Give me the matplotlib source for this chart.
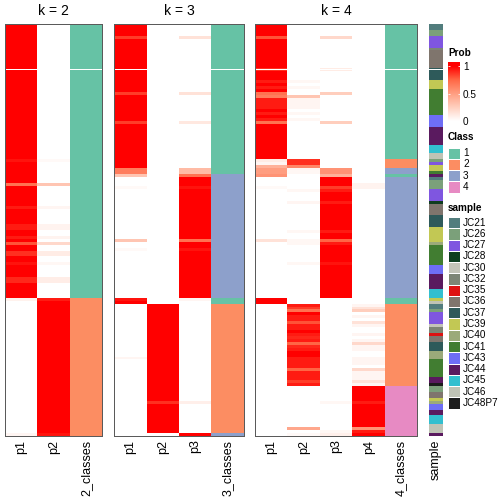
import numpy as np
import matplotlib
matplotlib.use("Agg")
import matplotlib.pyplot as plt
from matplotlib.colors import LinearSegmentedColormap, ListedColormap
from matplotlib.patches import Rectangle

plt.rcParams['font.family'] = ['Liberation Sans', 'DejaVu Sans']

# ---------------- data ----------------
k_values = [2, 3, 4]
class_labels = ["1", "2", "3", "4"]
class_colors = ["#66C2A5", "#FC8D62", "#8DA0CB", "#E78AC3"]

sample_names = ["JC21", "JC26", "JC27", "JC28", "JC30", "JC32", "JC35", "JC36", "JC37",
                "JC39", "JC40", "JC41", "JC43", "JC44", "JC45", "JC46", "JC48P7"]
sample_colors = ["#527D7D", "#7BA07A", "#7F56E0", "#0F3D1F", "#C4C4B8", "#7D8575",
                 "#DD1111", "#7F756D", "#2E5A5A", "#C2C854", "#9BAA7A", "#417D31",
                 "#6E6EF5", "#5A1A5F", "#33BFCF", "#BFC3B5", "#1C1C1C"]

# sample of each row (run-length: name, count), top to bottom
sample_runs = [("JC21", 2), ("JC26", 2), ("JC27", 4), ("JC32", 1), ("JC36", 6), ("JC37", 4),
               ("JC39", 3), ("JC41", 9), ("JC43", 4), ("JC44", 6), ("JC45", 3), ("JC46", 2),
               ("JC26", 1), ("JC27", 1), ("JC39", 2), ("JC41", 1), ("JC44", 1), ("JC21", 1),
               ("JC26", 3), ("JC27", 4), ("JC28", 1), ("JC36", 4), ("JC37", 4), ("JC39", 5),
               ("JC40", 1), ("JC41", 7), ("JC43", 3), ("JC44", 5), ("JC45", 3), ("JC39", 1),
               ("JC46", 1), ("JC21", 2), ("JC26", 1), ("JC27", 4), ("JC30", 1), ("JC32", 2),
               ("JC35", 1), ("JC36", 2), ("JC37", 3), ("JC40", 3), ("JC41", 6), ("JC44", 2),
               ("JC48P7", 1), ("JC26", 2), ("JC36", 2), ("JC39", 1), ("JC40", 1), ("JC43", 2),
               ("JC44", 2), ("JC45", 3), ("JC46", 3), ("JC44", 1)]

# class of each row for each k (run-length: class, count)
k2_class_runs = [(1, 93), (2, 47)]
k3_class_runs = [(1, 51), (3, 42), (1, 2), (2, 44), (3, 1)]
k4_class_runs = [(1, 46), (2, 3), (3, 2), (1, 1), (3, 41), (1, 2), (2, 28), (4, 17)]

# membership probabilities in percent (run-length: value, count)
k2_p1 = [(100, 46), (95, 1), (100, 7), (70, 1), (100, 7), (93, 1), (100, 5), (93, 2), (100, 2),
         (93, 1), (100, 1), (80, 1), (100, 2), (88, 2), (100, 2), (95, 1), (100, 4), (90, 2),
         (100, 5), (7, 1), (0, 45), (5, 1)]
k2_p2 = [(0, 46), (3, 1), (0, 7), (30, 1), (0, 7), (5, 1), (0, 5), (6, 2), (0, 2), (6, 1), (0, 1),
         (20, 1), (0, 2), (10, 2), (0, 2), (4, 1), (0, 4), (9, 2), (0, 5), (93, 1), (100, 45), (95, 1)]

k3_p1 = [(100, 4), (85, 1), (100, 18), (85, 1), (100, 9), (85, 1), (100, 15), (65, 2), (30, 1),
         (0, 3), (3, 1), (0, 17), (30, 1), (0, 2), (3, 1), (0, 16), (95, 1), (100, 1), (0, 18),
         (5, 1), (0, 26)]
k3_p2 = [(0, 95), (100, 33), (88, 1), (100, 10), (0, 1)]
k3_p3 = [(0, 4), (15, 1), (0, 18), (15, 1), (0, 9), (12, 1), (0, 15), (35, 2), (70, 1), (100, 3),
         (95, 1), (100, 17), (70, 1), (100, 2), (95, 1), (100, 16), (5, 1), (0, 34), (8, 1),
         (0, 10), (100, 1)]

k4_p1 = [(100, 4), (80, 1), (100, 10), (88, 1), (100, 3), (93, 1), (100, 1), (93, 1), (100, 1),
         (70, 1), (65, 1), (93, 4), (100, 1), (93, 1), (100, 1), (93, 1), (70, 1), (100, 12),
         (10, 1), (5, 1), (40, 1), (50, 2), (55, 1), (0, 3), (3, 1), (0, 17), (15, 1), (0, 19),
         (100, 2), (0, 45)]
k4_p2 = [(0, 19), (4, 1), (0, 1), (4, 1), (0, 2), (30, 1), (5, 4), (0, 1), (4, 1), (0, 1), (4, 1),
         (0, 13), (88, 2), (60, 1), (4, 2), (0, 5), (4, 1), (0, 3), (5, 1), (0, 9), (4, 1), (0, 2),
         (4, 2), (0, 6), (4, 1), (0, 13),
         (93, 1), (85, 1), (70, 1), (100, 1), (93, 2), (80, 1), (93, 2), (100, 1), (93, 1), (90, 1),
         (93, 1), (75, 1), (90, 1), (93, 1), (100, 2), (93, 4), (75, 1), (93, 3), (85, 1), (93, 1),
         (0, 14), (45, 1), (0, 1), (3, 1)]
k4_p3 = [(0, 4), (20, 1), (0, 10), (10, 1), (0, 7), (25, 1), (0, 9), (25, 1), (0, 15), (55, 2),
         (40, 1), (100, 3), (85, 1), (93, 1), (100, 3), (93, 1), (100, 9), (93, 1), (100, 2),
         (75, 1), (93, 1), (100, 6), (95, 1), (100, 11), (0, 35), (4, 1), (0, 9), (4, 1), (8, 1)]
k4_p4 = [(0, 54), (6, 2), (0, 39),
         (5, 1), (15, 1), (25, 1), (0, 1), (5, 1), (0, 1), (15, 1), (5, 1), (0, 2), (5, 1), (0, 1),
         (5, 1), (20, 1), (5, 2), (0, 2), (5, 3), (0, 1), (20, 1), (5, 3), (15, 1), (5, 1),
         (100, 5), (93, 1), (100, 8), (55, 1), (93, 1), (100, 1)]

prob_runs = {2: [k2_p1, k2_p2], 3: [k3_p1, k3_p2, k3_p3], 4: [k4_p1, k4_p2, k4_p3, k4_p4]}
class_runs = {2: k2_class_runs, 3: k3_class_runs, 4: k4_class_runs}

gap_row = 14.7  # thin white line seen across the heatmaps


def expand(runs):
    out = []
    for v, n in runs:
        out.extend([v] * n)
    return out


# ---------------- figure ----------------
W = H = 504
fig = plt.figure(figsize=(W / 72, H / 72), dpi=72)


def px_axes(x0, y0, x1, y1):
    return fig.add_axes([x0 / W, 1 - y1 / H, (x1 - x0) / W, (y1 - y0) / H])


prob_cmap = LinearSegmentedColormap.from_list(
    "prob", [(0, "#FFFFFF"), (0.25, "#FFCFBE"), (0.5, "#FF9E81"), (0.75, "#FF6846"), (1, "#FF0000")])
class_cmap = ListedColormap(class_colors)
sample_cmap = ListedColormap(sample_colors)

top, bottom = 24, 436
panel_x = {2: (5.3, 102.3), 3: (114.3, 243.7), 4: (255.3, 417.3)}

for k in k_values:
    x0, x1 = panel_x[k]
    ax = px_axes(x0, top, x1, bottom)
    P = np.array([expand(r) for r in prob_runs[k]], dtype=float).T / 100.0
    C = np.array(expand(class_runs[k]), dtype=float)[:, None]
    N = P.shape[0]
    ax.imshow(P, cmap=prob_cmap, vmin=0, vmax=1, aspect='auto', interpolation='nearest',
              extent=(-0.5, k - 0.5, N - 0.5, -0.5))
    ax.imshow(C, cmap=class_cmap, vmin=0.5, vmax=4.5, aspect='auto', interpolation='nearest',
              extent=(k - 0.5, k + 0.5, N - 0.5, -0.5))
    ax.axhline(gap_row, color='white', lw=1)
    ax.set_xlim(-0.5, k + 0.5)
    ax.set_ylim(N - 0.5, -0.5)
    ax.set_yticks([])
    ax.set_xticks(range(k + 1))
    ax.set_xticklabels([f"p{i + 1}" for i in range(k)] + [f"{k}_classes"], rotation=90, fontsize=12.5)
    ax.tick_params(axis='x', length=0, pad=3.5)
    for s in ax.spines.values():
        s.set_color('#5A5A5A')
        s.set_linewidth(1)
    fig.text((x0 + x1) / 2 / W, 1 - 15 / H, f"k = {k}", ha='center', va='baseline', fontsize=14)

# sample annotation column
sax = px_axes(429, top, 443, bottom)
S = np.array([sample_names.index(n) for n in expand([(nm, c) for nm, c in sample_runs])], dtype=float)[:, None]
sax.imshow(S, cmap=sample_cmap, vmin=-0.5, vmax=len(sample_names) - 0.5, aspect='auto',
           interpolation='nearest', extent=(-0.5, 0.5, len(S) - 0.5, -0.5))
sax.axhline(gap_row, color='white', lw=1)
sax.set_xlim(-0.5, 0.5)
sax.set_ylim(len(S) - 0.5, -0.5)
sax.set_yticks([])
sax.set_xticks([0])
sax.set_xticklabels(["sample"], rotation=90, fontsize=12.5)
sax.tick_params(axis='x', length=0, pad=3.5)
for s in sax.spines.values():
    s.set_visible(False)

# ---------------- legends ----------------
lax = fig.add_axes([0, 0, 1, 1])
lax.set_xlim(0, W)
lax.set_ylim(H, 0)
lax.axis('off')

# Prob colorbar
lax.text(448, 53, "Prob", fontsize=10, fontweight='bold', va='center', ha='left')
cax = px_axes(448, 62, 460, 125)
grad = np.clip(np.linspace(-0.073, 1.073, 256), 0, 1)[:, None]
cax.imshow(grad, cmap=prob_cmap, vmin=0, vmax=1, aspect='auto', origin='lower',
           extent=(0, 1, -0.073, 1.073), interpolation='bilinear')
cax.set_xlim(0, 1)
cax.set_ylim(-0.073, 1.073)
cax.set_xticks([])
cax.yaxis.tick_right()
cax.set_yticks([0, 0.5, 1])
cax.set_yticklabels(["0", "0.5", "1"])
cax.tick_params(axis='y', direction='in', length=2, color='white', labelcolor='black',
                labelsize=10, pad=3, left=True, right=True)
for s in cax.spines.values():
    s.set_visible(False)

# Class legend
lax.text(448, 137, "Class", fontsize=10, fontweight='bold', va='center', ha='left')
for i, (lab, col) in enumerate(zip(class_labels, class_colors)):
    y = 147.5 + i * 11.3
    lax.add_patch(Rectangle((448, y), 12, 11.3, facecolor=col, edgecolor='white', lw=1))
    lax.text(463, y + 5.65, lab, fontsize=10, va='center', ha='left')

# sample legend
lax.text(448, 208, "sample", fontsize=10, fontweight='bold', va='center', ha='left')
for i, (lab, col) in enumerate(zip(sample_names, sample_colors)):
    y = 217 + i * 11.27
    lax.add_patch(Rectangle((448, y), 12, 11.27, facecolor=col, edgecolor='white', lw=1))
    lax.text(463, y + 5.6, lab, fontsize=10, va='center', ha='left')

fig.savefig("out.png", dpi=72)
